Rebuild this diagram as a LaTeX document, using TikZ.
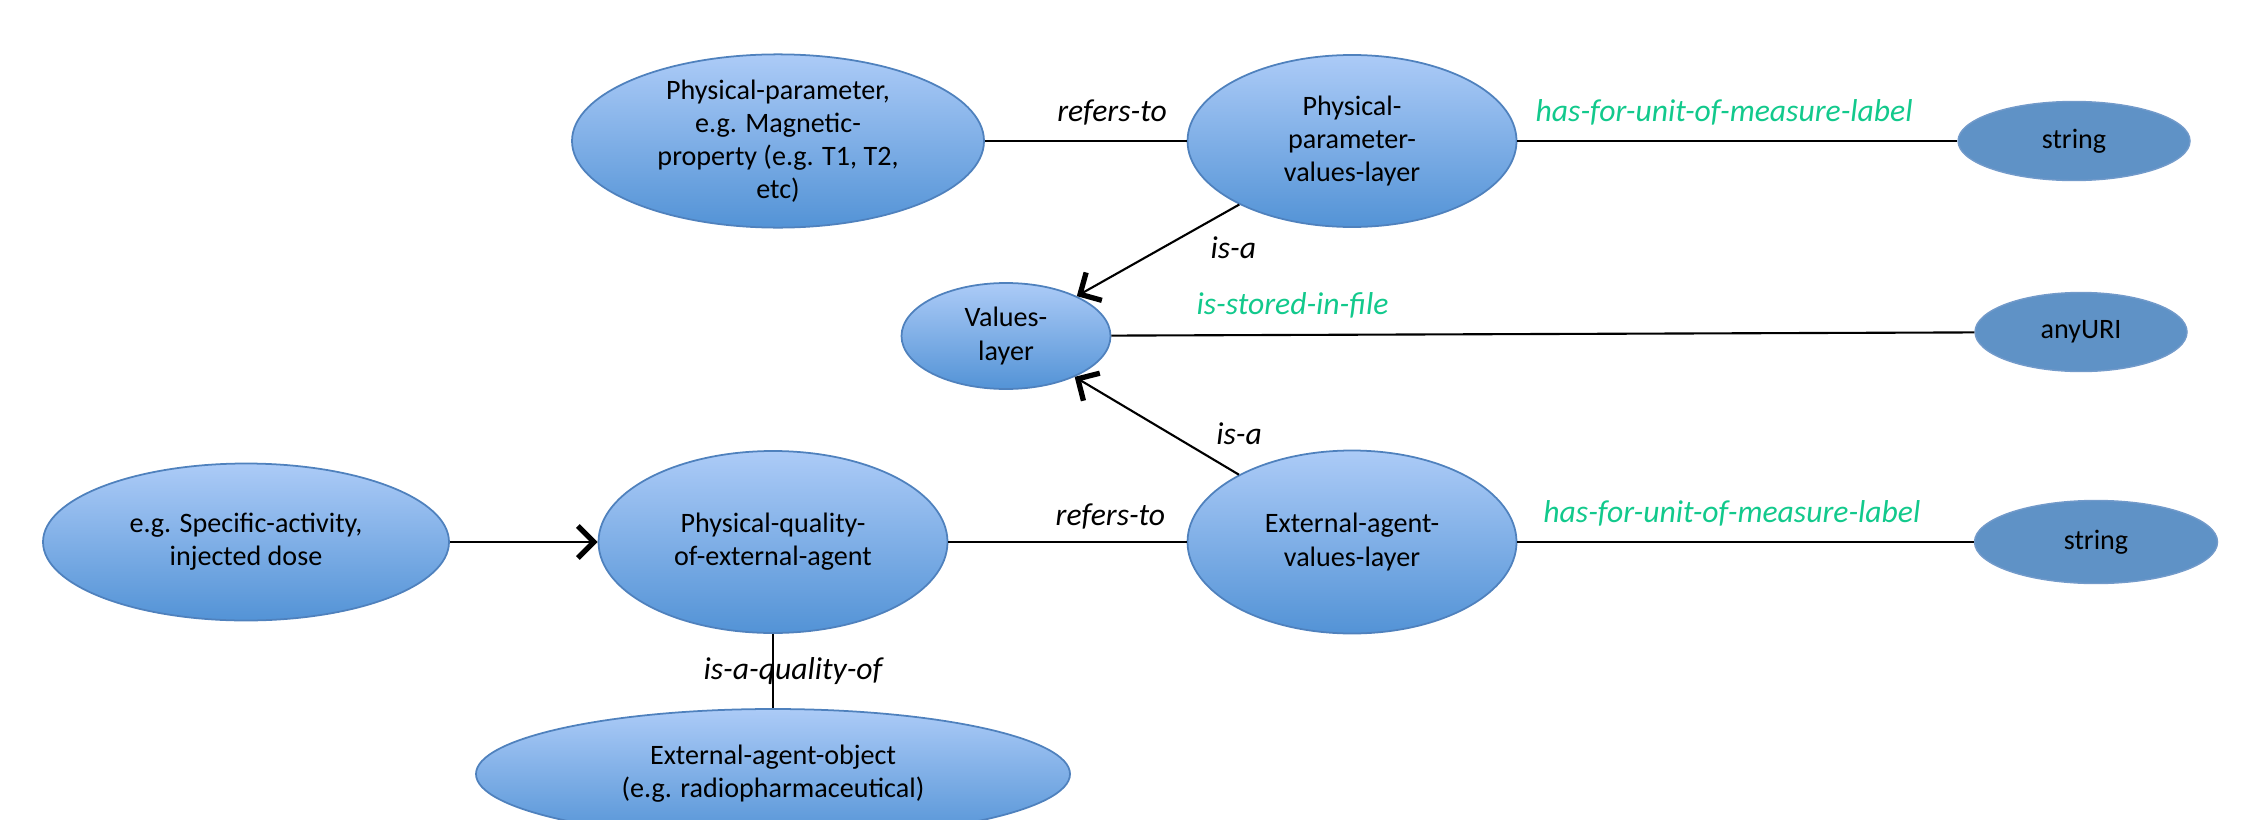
\documentclass[tikz,border=0pt]{standalone}
\usepackage{fontspec}
\setmainfont{Carlito}
\usetikzlibrary{arrows.meta,positioning,shapes.geometric}
\definecolor{skytop}{HTML}{ACCBF7}
\definecolor{skybot}{HTML}{5393D6}
\definecolor{rim}{HTML}{4F81BD}
\definecolor{flatblue}{HTML}{5F92C6}
\definecolor{mint}{HTML}{12C98C}

\begin{document}
\begin{tikzpicture}[
  cls/.style={ellipse, draw=rim, line width=0.5pt, top color=skytop, bottom color=skybot, inner sep=0pt, align=center, font=\fontsize{8}{9.4}\selectfont},
  dtype/.style={ellipse, draw=rim!80, fill=flatblue, inner sep=0pt, font=\fontsize{8}{9.4}\selectfont},
  rel/.style={black, line width=0.6pt},
  arr/.style={rel, -{Straight Barb[length=1.6mm, width=3.2mm, line width=1.5pt]}},
  lbl/.style={font=\fontsize{9}{10.5}\selectfont\itshape},
  dlbl/.style={lbl, text=mint}
]
\clip (0,0) rectangle (22.44,8.19);

\node[cls, minimum width=4.12cm, minimum height=1.69cm] (physpar) at (7.78,6.78) {Physical-parameter,\\e.g. Magnetic-\\property (e.g. T1, T2,\\etc)};
\node[cls, minimum width=3.29cm, minimum height=1.72cm] (ppvl) at (13.52,6.78) {Physical-\\parameter-\\values-layer};
\node[dtype, minimum width=2.32cm, minimum height=0.79cm] (str1) at (20.74,6.78) {string};
\node[cls, minimum width=2.09cm, minimum height=1.06cm] (vlayer) at (10.06,4.83) {Values-\\layer};
\node[dtype, minimum width=2.12cm, minimum height=0.79cm] (uri) at (20.81,4.87) {anyURI};
\node[cls, minimum width=4.06cm, minimum height=1.57cm] (spec) at (2.46,2.77) {e.g. Specific-activity,\\injected dose};
\node[cls, minimum width=3.49cm, minimum height=1.82cm] (pqea) at (7.73,2.77) {Physical-quality-\\of-external-agent};
\node[cls, minimum width=3.29cm, minimum height=1.83cm] (eavl) at (13.52,2.77) {External-agent-\\values-layer};
\node[dtype, minimum width=2.43cm, minimum height=0.83cm] (str2) at (20.96,2.77) {string};
\node[cls, minimum width=5.94cm, minimum height=1.30cm] (eao) at (7.73,0.45) {External-agent-object\\(e.g. radiopharmaceutical)};

% top row
\draw[rel] (physpar) -- node[lbl, above=1pt, pos=0.63] {refers-to} (ppvl);
\draw[rel] (ppvl) -- node[dlbl, above=1pt, pos=0.47] {has-for-unit-of-measure-label} (str1);
\draw[arr] (ppvl) -- node[lbl, pos=0.24, below right=-1pt] {is-a} (vlayer);
\draw[rel] (vlayer) -- node[dlbl, pos=0.21, above=1pt] {is-stored-in-file} (uri);
\draw[arr] (eavl) -- node[lbl, pos=0.2, above right=-1pt] {is-a} (vlayer);
% bottom row
\draw[arr] (spec) -- (pqea);
\draw[rel] (pqea) -- node[lbl, above=0pt, pos=0.68] {refers-to} (eavl);
\draw[rel] (eavl) -- node[dlbl, above=1pt, pos=0.47] {has-for-unit-of-measure-label} (str2);
\draw[rel] (pqea) -- node[lbl, midway, xshift=0.2cm] {is-a-quality-of} (eao);
\end{tikzpicture}
\end{document}
